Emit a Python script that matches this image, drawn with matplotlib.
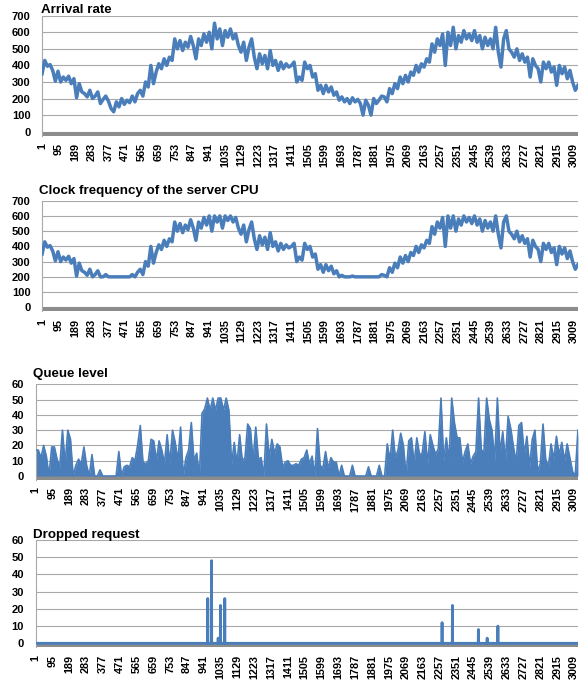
import matplotlib
matplotlib.use("Agg")
import matplotlib.pyplot as plt
import numpy as np

plt.rcParams['font.family'] = ['Liberation Sans', 'DejaVu Sans']

# ---------------- data ----------------
n_points = 3031
sample_index = list(range(1, 3032, 15))          # 203 samples

arrival_rate = [
    350, 430, 395, 405, 370, 305, 365, 300, 330, 310,
    335, 290, 320, 205, 290, 240, 230, 210, 250, 200,
    215, 240, 170, 195, 215, 185, 140, 120, 180, 150,
    200, 165, 190, 175, 215, 180, 230, 250, 215, 300,
    270, 400, 290, 360, 410, 380, 440, 400, 450, 430,
    560, 500, 550, 490, 540, 510, 575, 520, 440, 560,
    520, 590, 540, 600, 500, 655, 560, 620, 520, 610,
    570, 620, 560, 590, 520, 480, 540, 430, 510, 560,
    450, 380, 470, 410, 460, 380, 490, 400, 430, 370,
    420, 380, 410, 390, 400, 420, 300, 330, 310, 420,
    380, 400, 330, 350, 250, 280, 230, 280, 240, 270,
    220, 240, 190, 210, 180, 200, 170, 205, 180, 195,
    170, 100, 190, 160, 100, 200, 170, 190, 215, 210,
    180, 260, 230, 290, 260, 330, 290, 340, 300, 360,
    340, 400, 360, 410, 390, 440, 420, 530, 480, 560,
    520, 590, 400, 600, 520, 630, 500, 580, 540, 610,
    560, 590, 550, 610, 540, 580, 500, 570, 520, 560,
    500, 630, 480, 390, 560, 610, 500, 480, 450, 500,
    430, 470, 420, 450, 330, 440, 400, 380, 300, 420,
    380, 420, 360, 390, 280, 400, 350, 390, 320, 370,
    300, 250, 280,
]

clock_frequency = [
    350, 430, 395, 405, 370, 305, 365, 300, 330, 310,
    335, 290, 320, 205, 290, 240, 230, 210, 250, 200,
    215, 240, 200, 200, 215, 200, 200, 200, 200, 200,
    200, 200, 200, 200, 215, 200, 230, 250, 215, 300,
    270, 400, 290, 360, 410, 380, 440, 400, 450, 430,
    560, 500, 550, 490, 540, 510, 575, 520, 440, 560,
    520, 590, 540, 600, 500, 600, 560, 600, 520, 600,
    570, 600, 560, 590, 520, 480, 540, 430, 510, 560,
    450, 380, 470, 410, 460, 380, 490, 400, 430, 370,
    420, 380, 410, 390, 400, 420, 300, 330, 310, 420,
    380, 400, 330, 350, 250, 280, 230, 280, 240, 270,
    220, 240, 200, 210, 200, 200, 200, 205, 200, 200,
    200, 200, 200, 200, 200, 200, 200, 200, 215, 210,
    200, 260, 230, 290, 260, 330, 290, 340, 300, 360,
    340, 400, 360, 410, 390, 440, 420, 530, 480, 560,
    520, 590, 400, 600, 520, 600, 500, 580, 540, 600,
    560, 590, 550, 600, 540, 580, 500, 570, 520, 560,
    500, 600, 480, 390, 560, 600, 500, 480, 450, 500,
    430, 470, 420, 450, 330, 440, 400, 380, 300, 420,
    380, 420, 360, 390, 280, 400, 350, 390, 320, 370,
    300, 250, 280,
]

queue_level = [
    17, 17, 12, 20, 13, 0, 19, 19, 11, 6,
    30, 8, 30, 24, 0, 7, 11, 8, 19, 7,
    0, 14, 0, 0, 4, 0, 0, 0, 0, 0,
    0, 16, 0, 6, 7, 6, 12, 10, 20, 33,
    9, 8, 10, 24, 23, 10, 23, 17, 8, 27,
    8, 30, 22, 10, 32, 0, 12, 17, 35, 10,
    15, 0, 41, 44, 51, 43, 51, 43, 51, 51,
    43, 51, 43, 8, 22, 8, 27, 10, 12, 34,
    31, 10, 32, 11, 12, 0, 34, 12, 24, 15,
    21, 19, 6, 9, 10, 7, 7, 8, 7, 11,
    12, 17, 8, 13, 0, 31, 7, 5, 16, 5,
    12, 9, 9, 0, 7, 0, 0, 0, 7, 0,
    0, 0, 0, 0, 6, 0, 0, 0, 7, 0,
    0, 21, 10, 30, 12, 17, 28, 20, 0, 23,
    25, 8, 25, 14, 15, 29, 8, 27, 20, 14,
    18, 51, 10, 25, 10, 51, 35, 25, 25, 9,
    16, 21, 8, 13, 16, 51, 17, 16, 51, 37,
    30, 10, 51, 15, 29, 10, 39, 31, 19, 9,
    33, 35, 14, 26, 6, 24, 30, 3, 8, 34,
    11, 6, 21, 11, 26, 14, 22, 10, 21, 12,
    3, 0, 30,
]

# dropped requests: zero everywhere except these spikes
dropped_index = [963, 984, 1021, 1034, 1058, 2272, 2330, 2475, 2524, 2584]
dropped_value = [26, 48, 3, 22, 26, 12, 22, 8, 3, 10]

tick_labels = [str(v) for v in range(1, 3010, 94)]
tick_positions = [int(v) for v in tick_labels]

titles = ["Arrival rate", "Clock frequency of the server CPU",
          "Queue level", "Dropped request"]

# ---------------- figure ----------------
W, H = 580, 691
fig = plt.figure(figsize=(W / 100, H / 100), dpi=100)
BLUE = '#4a7ebb'
GRID = '#a8a8a8'
FLOOR = '#8c8c8c'

full_index = np.arange(1, n_points + 1)
dropped_full = np.zeros(n_points)
dropped_full[np.array(dropped_index) - 1] = dropped_value

# layout in pixels: (left, top gridline, zero line, title dx, title dy)
layout = [
    (42, 15.7, 131.7, -1.3, 2.4),
    (42, 200.7, 307.3, -2.7, 6.7),
    (35.5, 384.3, 476.0, -2.2, 7.0),
    (35.5, 540.0, 643.3, -2.2, 2.3),
]
ymaxs = [700, 700, 60, 60]
ysteps = [100, 100, 10, 10]
floor_px = 4.0
right_px = 578

for p in range(4):
    left, top, zero, tdx, tdy = layout[p]
    bottom = zero + floor_px
    ax = fig.add_axes([left / W, 1 - bottom / H, (right_px - left) / W, (bottom - top) / H])
    ymax = ymaxs[p]
    delta = floor_px / (zero - top) * ymax
    ax.set_ylim(-delta, ymax)
    ax.set_xlim(0.5, n_points + 0.5)

    ax.axhspan(-delta, 0, color=FLOOR, lw=0, zorder=1.5)

    if p == 0:
        ax.plot(sample_index, arrival_rate, color=BLUE, lw=2.5, zorder=3,
                solid_joinstyle='round')
    elif p == 1:
        ax.plot(sample_index, clock_frequency, color=BLUE, lw=2.5, zorder=3,
                solid_joinstyle='round')
    elif p == 2:
        ax.fill_between(sample_index, 0, queue_level, color=BLUE, lw=0, zorder=2.5)
        ax.plot(sample_index, queue_level, color=BLUE, lw=1.2, zorder=3)
    else:
        ax.plot(full_index, dropped_full, color=BLUE, lw=2.0, zorder=3)

    ax.set_yticks(np.arange(0, ymax + 1, ysteps[p]))
    ax.yaxis.grid(True, color=GRID, lw=0.8)
    ax.set_axisbelow(True)
    ax.set_xticks(tick_positions)
    ax.set_xticklabels(tick_labels, rotation=90, fontsize=7.8, fontweight='bold')
    for lab in ax.get_yticklabels():
        lab.set_fontsize(8)
        lab.set_fontweight('bold')
    ax.tick_params(axis='both', length=0)
    ax.tick_params(axis='y', pad=8.3)
    ax.tick_params(axis='x', pad=5.3)

    for side in ['top', 'right', 'bottom']:
        ax.spines[side].set_visible(False)
    ax.spines['left'].set_color(GRID)
    ax.spines['left'].set_linewidth(0.8)

    ax.annotate(titles[p], xy=(0, 1), xycoords='axes fraction',
                xytext=(tdx * 0.72, tdy * 0.72), textcoords='offset points',
                ha='left', va='baseline', fontsize=9.6, fontweight='bold')

fig.savefig('out.png', dpi=100)
